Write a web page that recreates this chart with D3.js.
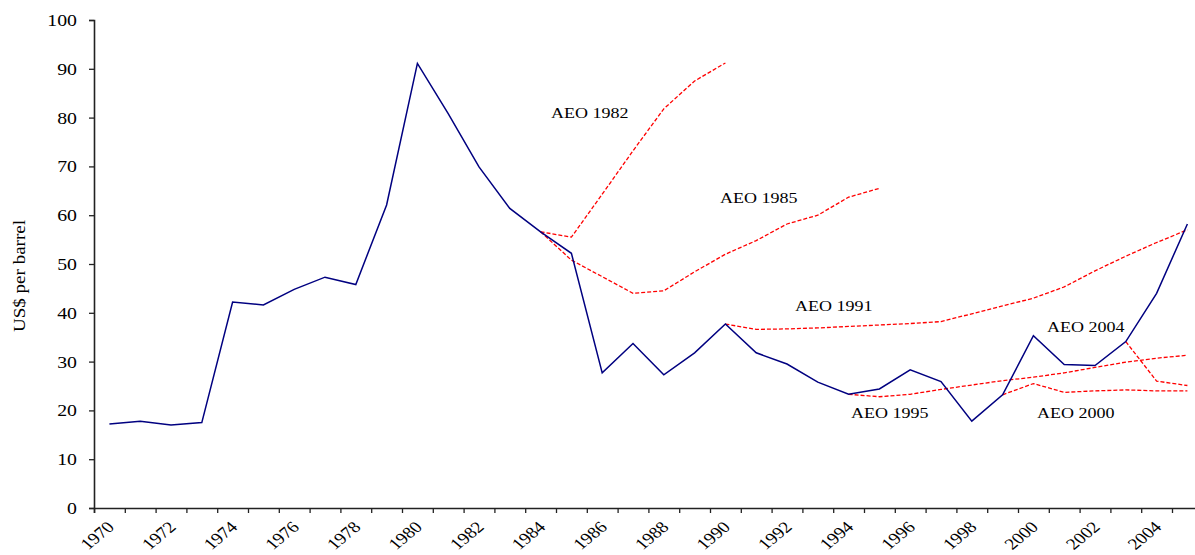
<!DOCTYPE html>
<html><head><meta charset="utf-8">
<script src="https://cdn.jsdelivr.net/npm/d3@7"></script>
<style>
body{margin:0;background:#fff}
svg{display:block}
text{font-family:"Liberation Serif","Times New Roman",Times,serif;fill:#000}
</style>
</head><body>
<svg id="c" width="1195" height="555"></svg>
<script>
// ---- data ----
const years = d3.range(1970, 2006);
const actual = [17.2,17.8,17.0,17.5,42.2,41.6,44.8,47.3,45.8,62.1,91.1,80.8,69.9,61.4,56.6,52.2,27.7,33.7,27.3,31.8,37.7,31.8,29.5,25.8,23.3,24.4,28.3,25.9,17.8,23.2,35.3,29.4,29.2,34.1,44.0,58.2];
const aeo1982 = [56.6,55.5,64.3,73.2,81.8,87.5,91.2];            // 1984-1990
const aeo1985 = [56.6,50.8,47.4,44.0,44.5,48.4,52.0,54.8,58.2,60.0,63.7,65.5]; // 1984-1995
const aeo1991 = [37.7,36.6,36.7,36.9,37.2,37.5,37.8,38.2,39.8,41.4,43.0,45.3,48.6,51.6,54.4,57.0]; // 1990-2005
const aeo1995 = [23.3,22.8,23.3,24.3,25.2,26.1,26.8,27.7,28.8,29.9,30.7,31.3]; // 1994-2005
const aeo2000 = [23.2,25.5,23.7,24.0,24.2,24.0,24.0];            // 1999-2005
const aeo2004 = [34.1,26.0,25.1];                                // 2003-2005
const forecastStart = [1984,1984,1990,1994,1999,2003];
const forecastNames = ["AEO 1982","AEO 1985","AEO 1991","AEO 1995","AEO 2000","AEO 2004"];
const yTicks = d3.range(0,101,10);
const yTitle = "US$ per barrel";

// ---- layout ----
const svg = d3.select("#c");
const mLeft = 94, bandW = 30.8, mTop = 20, mBottom = 508;
const x = d3.scaleBand().domain(years).range([mLeft, mLeft + years.length*bandW]);
const xi = d3.scaleLinear().domain([0, years.length]).range([mLeft, mLeft + years.length*bandW]);
const y = d3.scaleLinear().domain([0,100]).range([mBottom, mTop]);
const cx = yr => x(yr) + x.bandwidth()/2;
const SX = 1.2;
const FONT = '"Liberation Serif","Times New Roman",Times,serif';

// axes
const gx = svg.append("g").attr("transform",`translate(0,${mBottom})`)
  .call(d3.axisBottom(xi).tickValues(d3.range(0, years.length+1)).tickSize(5).tickFormat(""));
gx.select(".domain").attr("stroke","#222").attr("stroke-width",1.6);
gx.selectAll(".tick line").attr("stroke","#222").attr("stroke-width",1.3);

const gy = svg.append("g").attr("transform",`translate(${mLeft},0)`)
  .call(d3.axisLeft(y).tickValues(yTicks).tickSize(5).tickFormat(""));
gy.select(".domain").attr("stroke","#222").attr("stroke-width",1.6);
gy.selectAll(".tick line").attr("stroke","#222").attr("stroke-width",1.3);

// y tick labels
svg.append("g").selectAll("text").data(yTicks).join("text")
  .attr("transform", d => `translate(77,${y(d)}) scale(${SX},1)`)
  .attr("text-anchor","end").attr("dy","0.36em")
  .attr("font-family", FONT).attr("font-size", 16.5).text(d => d);

// x tick labels
svg.append("g").selectAll("text").data(years.filter(d => d % 2 === 0)).join("text")
  .attr("transform", d => `translate(${cx(d)+6},528) scale(${SX},1) rotate(-45)`)
  .attr("text-anchor","end")
  .attr("font-family", FONT).attr("font-size", 16).text(d => d);

// y title
svg.append("text")
  .attr("transform", `translate(25,276) rotate(-90)`)
  .attr("text-anchor","middle")
  .attr("textLength", 112).attr("lengthAdjust","spacingAndGlyphs")
  .attr("font-family", FONT).attr("font-size", 16).text(yTitle);

// lines
const line = d3.line().x(d => cx(d[0])).y(d => y(d[1]));
const forecasts = [aeo1982, aeo1985, aeo1991, aeo1995, aeo2000, aeo2004];
forecasts.forEach((vals, i) => {
  const pts = vals.map((v, j) => [forecastStart[i] + j, v]);
  svg.append("path").datum(pts).attr("d", line)
    .attr("fill","none").attr("stroke","#ff0000").attr("stroke-width",1.3)
    .attr("stroke-dasharray","4,2");
});
svg.append("path").datum(years.map((yr,i) => [yr, actual[i]])).attr("d", line)
  .attr("fill","none").attr("stroke","#000080").attr("stroke-width",1.5);

// forecast labels
const labelPos = [[551,118.3],[720,203.3],[795,310.5],[851,418.3],[1037,418.3],[1047,331.5]];
svg.append("g").selectAll("text").data(forecastNames).join("text")
  .attr("transform", (d,i) => `translate(${labelPos[i][0]},${labelPos[i][1]}) scale(${SX},1)`)
  .attr("font-family", FONT).attr("font-size", 15).text(d => d);
</script>
</body></html>
